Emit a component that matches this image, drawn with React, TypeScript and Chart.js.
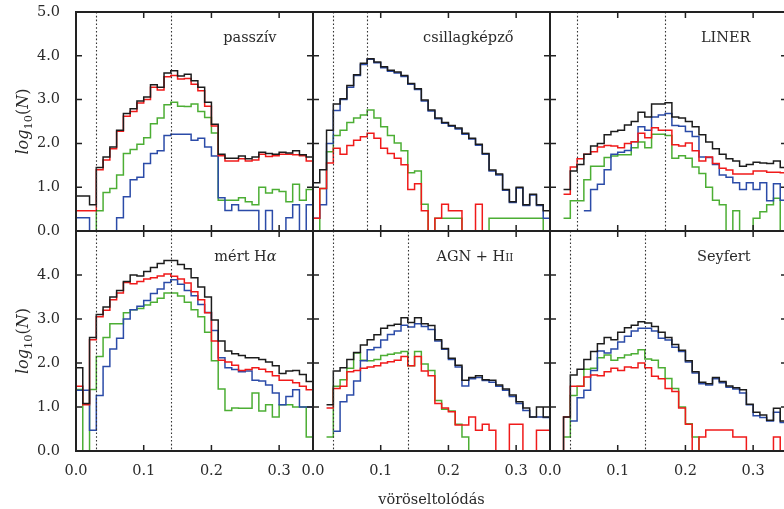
import React, { useEffect, useRef } from "react";
import { Chart, registerables } from "chart.js";
Chart.register(...registerables);

// bin edges of the redshift histograms
const redshiftEdges = [
  0.0, 0.01, 0.02, 0.03, 0.04, 0.05, 0.06, 0.07, 0.08, 0.09, 0.1, 0.11, 0.12,
  0.13, 0.14, 0.15, 0.16, 0.17, 0.18, 0.19, 0.2, 0.21, 0.22, 0.23, 0.24, 0.25,
  0.26, 0.27, 0.28, 0.29, 0.3, 0.31, 0.32, 0.33, 0.34, 0.35,
];
const xTickLabels = ["0.0", "0.1", "0.2", "0.3"];
const yTickLabels = ["0.0", "1.0", "2.0", "3.0", "4.0", "5.0"];
const xAxisTitle = "vöröseltolódás";

// passzív
const passzivBlack = [0.8,0.8,0.6,1.45,1.69,1.92,2.3,2.68,2.79,2.97,3.06,3.34,3.28,3.61,3.66,3.54,3.58,3.43,3.28,2.94,2.44,1.75,1.66,1.66,1.71,1.65,1.69,1.8,1.77,1.75,1.8,1.78,1.83,1.74,1.69];
const passzivRed = [0.46,0.46,0.46,1.4,1.62,1.88,2.28,2.62,2.73,2.92,3.0,3.28,3.22,3.52,3.55,3.47,3.48,3.35,3.2,2.85,2.4,1.72,1.6,1.6,1.65,1.6,1.62,1.75,1.7,1.72,1.75,1.75,1.74,1.72,1.6];
const passzivBlue = [0.3,0.3,0,0,0,0,0.3,0.78,1.17,1.23,1.54,1.77,1.83,2.18,2.21,2.21,2.21,2.07,2.12,1.92,1.71,0.76,0.47,0.6,0.47,0.47,0.47,0,0.47,0,0,0.3,0.6,0,0.6];
const passzivGreen = [0,0,0,0.46,0.88,0.97,1.28,1.77,1.86,1.98,2.13,2.45,2.58,2.88,2.94,2.85,2.84,2.9,2.73,2.59,2.24,0.7,0.7,0.7,0.76,0.67,0.6,1.0,0.87,0.95,0.9,0.67,1.07,0.7,0.95];
const passzivMarkers = [0.03, 0.14];

// csillagképző
const csillagBlack = [1.1,1.4,2.3,2.9,3.02,3.32,3.57,3.83,3.93,3.86,3.75,3.67,3.63,3.55,3.37,3.25,2.99,2.76,2.58,2.48,2.41,2.35,2.23,2.12,1.98,1.77,1.39,1.3,0.95,0.67,1.0,0.6,0.84,0.6,0.46];
const csillagRed = [0.29,0.97,1.55,1.89,1.75,1.95,2.07,2.15,2.23,2.12,1.89,1.77,1.66,1.51,0.95,1.08,0.46,0,0.29,0.61,0.46,0.46,0,0,0.61,0,0,0,0,0,0,0,0,0,0];
const csillagBlue = [0.29,0.6,2.0,2.75,3.0,3.28,3.55,3.8,3.92,3.84,3.73,3.65,3.61,3.53,3.35,3.23,2.97,2.74,2.56,2.46,2.39,2.33,2.21,2.1,1.96,1.75,1.37,1.28,0.93,0.65,0.98,0.58,0.82,0.58,0.29];
const csillagGreen = [0,0.97,1.81,2.18,2.3,2.48,2.58,2.65,2.76,2.58,2.38,2.18,2.01,1.83,1.33,1.37,0.61,0,0.29,0.29,0.29,0.29,0,0,0,0,0.29,0.29,0.29,0.29,0.29,0.29,0.29,0.29,0];
const csillagMarkers = [0.03, 0.08];

// LINER
const linerBlack = [null,null,0.95,1.37,1.52,1.75,1.94,2.0,2.2,2.27,2.3,2.42,2.5,2.71,2.6,2.9,2.9,2.93,2.6,2.58,2.5,2.38,2.2,2.03,1.88,1.75,1.65,1.6,1.48,1.52,1.57,1.55,1.54,1.6,1.45];
const linerRed = [null,null,0.84,1.46,1.65,1.75,1.81,1.92,1.95,1.94,1.9,2.0,2.04,2.23,2.13,2.36,2.3,2.3,1.97,1.94,2.01,1.83,1.6,1.69,1.54,1.43,1.39,1.3,1.3,1.3,1.37,1.37,1.34,1.34,1.33];
const linerBlue = [null,null,null,null,null,0.46,0.95,1.07,1.4,1.75,1.8,1.84,2.04,2.38,2.3,2.6,2.65,2.68,2.41,2.39,2.27,2.16,1.69,1.68,1.52,1.28,1.23,1.1,0.95,1.1,0.95,1.1,0.69,1.08,0.7];
const linerGreen = [null,null,0.29,0.69,0.69,1.17,1.48,1.48,1.68,1.71,1.74,1.74,1.9,2.03,1.9,2.21,2.21,2.18,1.66,1.72,1.66,1.46,1.31,1.0,0.7,0.6,0,0.46,0,0,0.29,0.44,0.6,0.75,0];
const linerMarkers = [0.04, 0.17];

// mért Hα
const mertBlack = [1.89,1.08,2.58,3.1,3.27,3.5,3.65,3.85,4.0,3.98,4.08,4.17,4.26,4.33,4.33,4.24,4.14,3.94,3.73,3.5,2.98,2.5,2.27,2.21,2.17,2.12,2.12,2.08,2.02,1.94,1.76,1.82,1.83,1.74,1.58];
const mertRed = [1.47,1.05,2.53,3.05,3.2,3.44,3.59,3.83,3.8,3.85,3.91,3.94,3.98,4.02,3.97,3.91,3.82,3.62,3.44,3.14,2.5,2.06,2.02,1.95,1.83,1.85,1.89,1.86,1.8,1.71,1.61,1.61,1.55,1.47,1.39];
const mertBlue = [1.38,1.38,0.47,1.26,1.92,2.32,2.56,3.0,3.21,3.29,3.42,3.58,3.68,3.83,3.89,3.79,3.65,3.53,3.33,3.15,2.74,2.12,1.89,1.85,1.8,1.82,1.61,1.59,1.5,1.32,1.05,1.24,1.39,1.0,1.0];
const mertGreen = [1.4,0,1.4,2.15,2.58,2.89,2.89,3.14,3.21,3.24,3.32,3.38,3.47,3.59,3.59,3.52,3.38,3.21,3.05,2.7,2.05,1.41,0.92,0.98,0.97,0.97,1.32,0.91,1.05,0.77,1.05,1.05,1.0,1.0,0.32];
const mertMarkers = [0.03, 0.14];

// AGN + HII
const agnBlack = [null,null,1.05,1.82,1.89,2.08,2.24,2.41,2.53,2.64,2.79,2.85,2.88,3.03,2.92,3.03,2.89,2.85,2.53,2.33,2.11,1.95,1.61,1.67,1.71,1.62,1.61,1.5,1.41,1.27,1.12,0.98,0.77,1.0,0.77];
const agnRed = [null,null,0.98,1.42,1.47,1.8,1.83,1.88,1.91,1.94,2.0,2.03,2.06,2.15,1.94,2.15,1.82,1.71,1.08,0.98,0.89,0.59,0.59,0.77,0.47,0.61,0.47,0,0,0.61,0.61,0,0,0.47,0.47];
const agnBlue = [null,null,null,0.45,1.12,1.27,1.59,2.05,2.3,2.35,2.52,2.65,2.73,2.86,2.82,2.89,2.83,2.76,2.5,2.31,2.08,1.91,1.48,1.64,1.67,1.6,1.56,1.47,1.38,1.24,1.08,0.92,0.77,0.77,0.76];
const agnGreen = [null,null,0.32,1.47,1.62,1.88,2.23,2.06,2.05,2.08,2.17,2.2,2.23,2.26,1.94,2.26,1.98,1.83,1.15,0.95,0.91,0.61,0.32,0,0,0,0,0,0,0,0,0,0,0,0];
const agnMarkers = [0.03, 0.14];

// Seyfert
const seyfertBlack = [0,0,0.77,1.73,1.86,2.08,2.26,2.44,2.58,2.53,2.7,2.8,2.86,2.94,2.91,2.83,2.7,2.58,2.42,2.29,2.05,1.8,1.56,1.53,1.67,1.58,1.48,1.44,1.39,1.06,0.88,0.82,0.7,0.97,0.68];
const seyfertRed = [0,0,0.77,1.47,1.47,1.68,1.73,1.71,1.8,1.88,1.83,1.91,1.89,2.0,1.89,1.7,1.64,1.42,1.35,0.98,0.61,0,0.32,0.48,0.48,0.48,0.48,0.32,0.32,0,0,0,0,0.32,0];
const seyfertBlue = [null,null,null,0.68,1.21,1.38,1.83,2.27,2.23,2.32,2.48,2.61,2.73,2.79,2.79,2.73,2.56,2.52,2.36,2.26,2.02,1.77,1.53,1.5,1.64,1.55,1.45,1.41,1.32,1.05,0.8,0.76,0.68,0.88,0.65];
const seyfertGreen = [null,null,0.32,1.26,1.47,1.86,1.88,2.12,2.18,2.06,2.12,2.18,2.21,2.3,2.09,2.06,1.89,1.65,1.42,1.0,0.62,0.32,0,0,0,0,0,0,0,0,0,0,0,0,0];
const seyfertMarkers = [0.03, 0.14];

type Run = { text: string; italic?: boolean; size?: number; dy?: number };

const FONT = '"DejaVu Serif"';
const TEXT_COLOR = "#2a2a2a";
const COLORS = { black: "#1c1c1c", red: "#f01a1a", blue: "#2b4ba8", green: "#4cae34" };

const COL_LEFT = [76, 313, 550];
const ROW_TOP = [12, 231];
const ROW_H = [219, 220];
const PANEL_W = 237;
const LEFT_M = 76;
const CANVAS_W = LEFT_M + PANEL_W + 12;
const CANVAS_H = [12 + 219 + 12, 290];

const PANELS = [
  { row: 0, col: 0, label: [{ text: "passzív" }] as Run[], black: passzivBlack, red: passzivRed, blue: passzivBlue, green: passzivGreen, markers: passzivMarkers },
  { row: 0, col: 1, label: [{ text: "csillagképző" }] as Run[], black: csillagBlack, red: csillagRed, blue: csillagBlue, green: csillagGreen, markers: csillagMarkers },
  { row: 0, col: 2, label: [{ text: "LINER" }] as Run[], black: linerBlack, red: linerRed, blue: linerBlue, green: linerGreen, markers: linerMarkers },
  { row: 1, col: 0, label: [{ text: "mért H" }, { text: "α", italic: true }] as Run[], black: mertBlack, red: mertRed, blue: mertBlue, green: mertGreen, markers: mertMarkers },
  { row: 1, col: 1, label: [{ text: "AGN + H" }, { text: "II", size: 10.5 }] as Run[], black: agnBlack, red: agnRed, blue: agnBlue, green: agnGreen, markers: agnMarkers },
  { row: 1, col: 2, label: [{ text: "Seyfert" }] as Run[], black: seyfertBlack, red: seyfertRed, blue: seyfertBlue, green: seyfertGreen, markers: seyfertMarkers },
];

const yTitleRuns: Run[] = [
  { text: "log", italic: true, size: 16 },
  { text: "10", size: 11.5, dy: 4 },
  { text: "(", size: 16 },
  { text: "N", italic: true, size: 16 },
  { text: ")", size: 16 },
];

function fontOf(r: Run, base = 14.5) {
  return `${r.italic ? "italic " : ""}${r.size ?? base}px ${FONT}`;
}

function runsWidth(ctx: CanvasRenderingContext2D, runs: Run[]) {
  let w = 0;
  for (const r of runs) {
    ctx.font = fontOf(r);
    w += ctx.measureText(r.text).width;
  }
  return w;
}

function drawRuns(ctx: CanvasRenderingContext2D, runs: Run[], x: number, y: number) {
  let cx = x;
  ctx.textBaseline = "alphabetic";
  ctx.textAlign = "left";
  for (const r of runs) {
    ctx.font = fontOf(r);
    ctx.fillText(r.text, cx, y + (r.dy ?? 0));
    cx += ctx.measureText(r.text).width;
  }
}

function toSteps(vals: (number | null)[]) {
  const pts = vals.map((v, i) => ({ x: redshiftEdges[i], y: v }));
  pts.push({ x: redshiftEdges[vals.length], y: vals[vals.length - 1] });
  return pts;
}

function Panel({ cfg, xTitle }: { cfg: (typeof PANELS)[number]; xTitle: boolean }) {
  const ref = useRef<HTMLCanvasElement | null>(null);
  const canvasH = CANVAS_H[cfg.row];
  const areaH = ROW_H[cfg.row];
  useEffect(() => {
    const isBottom = cfg.row === 1;
    const isLeft = cfg.col === 0;
    const decor = {
      id: "decor",
      afterDatasetsDraw(chart: any) {
        const { ctx, chartArea: a, scales } = chart;
        const xs = scales.x;
        const ys = scales.y;
        ctx.save();
        // dotted marker lines
        ctx.strokeStyle = "#333";
        ctx.lineWidth = 1.1;
        ctx.setLineDash([1.6, 2.2]);
        for (const m of cfg.markers) {
          const px = Math.round(xs.getPixelForValue(m)) + 0.5;
          ctx.beginPath();
          ctx.moveTo(px, a.top);
          ctx.lineTo(px, a.bottom);
          ctx.stroke();
        }
        ctx.setLineDash([]);
        // inward ticks
        ctx.strokeStyle = "#222";
        ctx.lineWidth = 1.5;
        const L = 6;
        for (const t of xs.ticks) {
          const px = xs.getPixelForValue(t.value);
          if (px < a.left + 2 || px > a.right - 2) continue;
          ctx.beginPath();
          ctx.moveTo(px, a.bottom);
          ctx.lineTo(px, a.bottom - L);
          ctx.moveTo(px, a.top);
          ctx.lineTo(px, a.top + L);
          ctx.stroke();
        }
        for (const t of ys.ticks) {
          const py = ys.getPixelForValue(t.value);
          if (py < a.top + 2 || py > a.bottom - 2) continue;
          ctx.beginPath();
          ctx.moveTo(a.left, py);
          ctx.lineTo(a.left + L, py);
          ctx.moveTo(a.right, py);
          ctx.lineTo(a.right - L, py);
          ctx.stroke();
        }
        // frame
        ctx.lineWidth = 2;
        ctx.strokeRect(a.left, a.top, a.right - a.left, a.bottom - a.top);
        // panel label
        ctx.fillStyle = TEXT_COLOR;
        const w = runsWidth(ctx, cfg.label);
        drawRuns(ctx, cfg.label, a.right - 36.5 - w, a.top + 29.5);
        // y title
        if (isLeft) {
          const tw = runsWidth(ctx, yTitleRuns);
          ctx.save();
          ctx.translate(28, (a.top + a.bottom) / 2);
          ctx.rotate(-Math.PI / 2);
          drawRuns(ctx, yTitleRuns, -tw / 2, 0);
          ctx.restore();
        }
        ctx.restore();
      },
    };
    const series = [
      { v: cfg.black, c: COLORS.black },
      { v: cfg.red, c: COLORS.red },
      { v: cfg.blue, c: COLORS.blue },
      { v: cfg.green, c: COLORS.green },
    ];
    const tickFont = { family: FONT, size: 14.5 };
    const chart = new Chart(ref.current as HTMLCanvasElement, {
      type: "line",
      data: {
        datasets: series.map((s) => ({
          data: toSteps(s.v) as any,
          borderColor: s.c,
          borderWidth: 1.5,
          stepped: true,
          pointRadius: 0,
          fill: false,
          spanGaps: false,
          tension: 0,
        })),
      },
      options: {
        responsive: false,
        animation: false,
        devicePixelRatio: 1,
        events: [],
        layout: { padding: { left: 0, top: 12, right: CANVAS_W - LEFT_M - PANEL_W, bottom: 0 } },
        plugins: { legend: { display: false }, tooltip: { enabled: false } },
        scales: {
          x: {
            type: "linear",
            min: 0,
            max: 0.35,
            position: "bottom",
            grid: { display: false, drawTicks: false },
            border: { display: false },
            ticks: {
              display: isBottom,
              stepSize: 0.1,
              includeBounds: false,
              autoSkip: false,
              maxRotation: 0,
              padding: 12,
              font: tickFont,
              color: TEXT_COLOR,
              callback: (v: any) => xTickLabels[Math.round(Number(v) * 10)] ?? "",
            },
            title: xTitle
              ? { display: true, text: xAxisTitle, font: tickFont, color: TEXT_COLOR, padding: 0 }
              : { display: false },
            afterFit: (s: any) => {
              s.height = canvasH - 12 - areaH;
              s.paddingLeft = 0;
              s.paddingRight = 0;
              s.paddingTop = 0;
              s.paddingBottom = 0;
            },
          },
          y: {
            type: "linear",
            min: 0,
            max: 5,
            position: "left",
            grid: { display: false, drawTicks: false },
            border: { display: false },
            ticks: {
              display: isLeft,
              stepSize: 1,
              padding: 16,
              font: tickFont,
              color: TEXT_COLOR,
              callback: (v: any) => (isBottom && Number(v) === 5 ? "" : yTickLabels[Math.round(Number(v))]),
            },
            afterFit: (s: any) => {
              s.width = LEFT_M;
              s.paddingLeft = 0;
              s.paddingRight = 0;
              s.paddingTop = 0;
              s.paddingBottom = 0;
            },
          },
        },
      } as any,
      plugins: [decor as any],
    });
    return () => chart.destroy();
  }, []);
  return (
    <canvas
      ref={ref}
      width={CANVAS_W}
      height={canvasH}
      style={{
        position: "absolute",
        left: COL_LEFT[cfg.col] - LEFT_M,
        top: ROW_TOP[cfg.row] - 12,
        width: CANVAS_W,
        height: canvasH,
      }}
    />
  );
}

export default function App() {
  return (
    <div
      style={{
        position: "fixed",
        left: 0,
        top: 0,
        width: 784,
        height: 509,
        overflow: "hidden",
        background: "#fff",
      }}
    >
      {PANELS.map((p, i) => (
        <Panel key={i} cfg={p} xTitle={p.row === 1 && p.col === 1} />
      ))}
    </div>
  );
}
